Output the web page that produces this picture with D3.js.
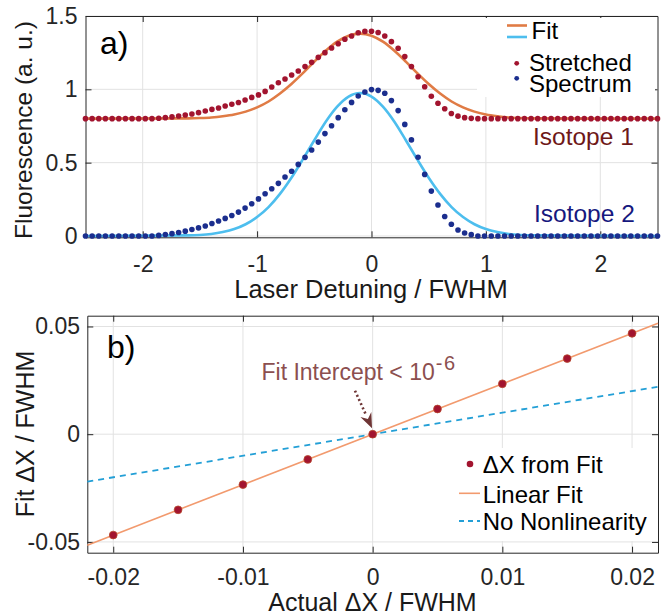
<!DOCTYPE html>
<html>
<head>
<meta charset="utf-8">
<script src="https://cdn.jsdelivr.net/npm/d3@7"></script>
<style>
  html, body { margin: 0; padding: 0; background: #fff; }
  svg { display: block; font-family: "Liberation Sans", Arial, Helvetica, sans-serif; }
  .tick line { stroke: #262626; }
  .tick text { fill: #262626; font-size: 23px; }
  .domain { stroke: #262626; }
</style>
</head>
<body>
<svg id="chart" width="672" height="616"></svg>
<script>
// ---------- Panel a: stretched spectra and their fits ----------
const detuning = [
  -2.500,-2.442,-2.384,-2.326,-2.267,-2.209,-2.151,-2.093,-2.035,-1.977,
  -1.919,-1.860,-1.802,-1.744,-1.686,-1.628,-1.570,-1.512,-1.453,-1.395,
  -1.337,-1.279,-1.221,-1.163,-1.105,-1.047,-0.988,-0.930,-0.872,-0.814,
  -0.756,-0.698,-0.640,-0.581,-0.523,-0.465,-0.407,-0.349,-0.291,-0.233,
  -0.174,-0.116,-0.058, 0.000, 0.058, 0.116, 0.174, 0.233, 0.291, 0.349,
   0.407, 0.465, 0.523, 0.581, 0.640, 0.698, 0.756, 0.814, 0.872, 0.930,
   0.988, 1.047, 1.105, 1.163, 1.221, 1.279, 1.337, 1.395, 1.453, 1.512,
   1.570, 1.628, 1.686, 1.744, 1.802, 1.860, 1.919, 1.977, 2.035, 2.093,
   2.151, 2.209, 2.267, 2.326, 2.384, 2.442, 2.500
];
const isotope1 = [
  0.800,0.800,0.800,0.800,0.800,0.800,0.800,0.800,0.800,0.800,
  0.800,0.803,0.807,0.812,0.818,0.825,0.832,0.841,0.852,0.863,
  0.873,0.886,0.898,0.910,0.927,0.945,0.962,0.986,1.016,1.045,
  1.070,1.098,1.125,1.155,1.184,1.218,1.250,1.282,1.311,1.341,
  1.364,1.386,1.395,1.396,1.387,1.364,1.325,1.280,1.223,1.155,
  1.086,1.018,0.953,0.905,0.868,0.835,0.817,0.807,0.802,0.800,
  0.800,0.800,0.800,0.800,0.800,0.800,0.800,0.800,0.800,0.800,
  0.800,0.800,0.800,0.800,0.800,0.800,0.800,0.800,0.800,0.800,
  0.800,0.800,0.800,0.800,0.800,0.800,0.800
];
const isotope2 = [
  0.000,0.000,0.000,0.000,0.000,0.000,0.000,0.000,0.000,0.000,
  0.000,0.004,0.010,0.016,0.024,0.033,0.044,0.055,0.068,0.085,
  0.102,0.120,0.140,0.163,0.190,0.220,0.253,0.288,0.322,0.359,
  0.402,0.441,0.488,0.536,0.586,0.640,0.698,0.752,0.807,0.861,
  0.911,0.955,0.982,0.998,0.993,0.973,0.923,0.855,0.761,0.655,
  0.537,0.420,0.306,0.211,0.133,0.080,0.041,0.020,0.009,0.000,
  0.000,0.000,0.000,0.000,0.000,0.000,0.000,0.000,0.000,0.000,
  0.000,0.000,0.000,0.000,0.000,0.000,0.000,0.000,0.000,0.000,
  0.000,0.000,0.000,0.000,0.000,0.000,0.000
];
const fitDetuning = [
  -2.5,-1.6,-1.5,-1.4,-1.3,-1.2,-1.1,-1.0,-0.9,-0.8,-0.7,-0.6,-0.5,-0.4,-0.3,-0.2,-0.1,
   0.0, 0.1, 0.2, 0.3, 0.4, 0.5, 0.6, 0.7, 0.8, 0.9, 1.0, 1.1, 1.2, 1.3, 1.4, 2.5
];
const fit1 = [
  0.800,0.802,0.804,0.808,0.816,0.828,0.848,0.877,0.917,0.971,1.036,1.110,1.189,1.263,1.325,1.366,1.380,
  1.366,1.325,1.263,1.189,1.110,1.036,0.971,0.917,0.877,0.848,0.828,0.816,0.808,0.804,0.802,0.800
];
const fit2 = [
  0.000,0.004,0.007,0.014,0.027,0.047,0.080,0.129,0.197,0.287,0.397,0.522,0.653,0.779,0.882,0.951,0.975,
  0.951,0.882,0.779,0.653,0.522,0.397,0.287,0.197,0.129,0.080,0.047,0.027,0.014,0.007,0.004,0.000
];
const aXTicks = [-2, -1, 0, 1, 2];
const aXTickLabels = ["-2", "-1", "0", "1", "2"];
const aYTicks = [0, 0.5, 1, 1.5];
const aYTickLabels = ["0", "0.5", "1", "1.5"];

// ---------- Panel b: fitted shift versus actual shift ----------
const actualShift = [-0.02, -0.015, -0.01, -0.005, 0, 0.005, 0.01, 0.015, 0.02];
const fittedShift = [-0.0468, -0.0351, -0.0234, -0.0117, 0, 0.0117, 0.0234, 0.0351, 0.0468];
const linearFitX = [-0.022, 0.022];
const linearFitY = [-0.0515, 0.0515];
const noNonlinX = [-0.022, 0.022];
const noNonlinY = [-0.022, 0.022];
const bXTicks = [-0.02, -0.01, 0, 0.01, 0.02];
const bXTickLabels = ["-0.02", "-0.01", "0", "0.01", "0.02"];
const bYTicks = [-0.05, 0, 0.05];
const bYTickLabels = ["-0.05", "0", "0.05"];

const C = {
  red: "#a2142f",
  navy: "#1b2e8e",
  orange: "#e07b45",
  sky: "#4dbeee",
  iso1: "#6e1818",
  iso2: "#16187e",
  grid: "#e2e2e2",
  salmon: "#f29a6e",
  dash: "#239fd6",
  note: "#8c4f4f",
  arrow: "#6e3535"
};

const svg = d3.select("#chart");
svg.append("rect").attr("width", 672).attr("height", 616).attr("fill", "#fff");

function frame(g, x, y, xt, xl, yt, yl, xPad, yPad) {
  const [x0, x1] = x.range();
  const [y0, y1] = y.range();
  // grid
  g.append("g").selectAll("line").data(xt).join("line")
    .attr("x1", d => x(d)).attr("x2", d => x(d)).attr("y1", y0).attr("y2", y1)
    .attr("stroke", C.grid).attr("stroke-width", 1);
  g.append("g").selectAll("line").data(yt).join("line")
    .attr("y1", d => y(d)).attr("y2", d => y(d)).attr("x1", x0).attr("x2", x1)
    .attr("stroke", C.grid).attr("stroke-width", 1);
  // axes with inward ticks on all four sides
  g.append("g").attr("transform", `translate(0,${y0})`)
    .call(d3.axisBottom(x).tickValues(xt).tickFormat((d, i) => xl[i]).tickSizeInner(-6).tickSizeOuter(0).tickPadding(xPad));
  g.append("g").attr("transform", `translate(0,${y1})`)
    .call(d3.axisTop(x).tickValues(xt).tickFormat("").tickSizeInner(-6).tickSizeOuter(0));
  g.append("g").attr("transform", `translate(${x0},0)`)
    .call(d3.axisLeft(y).tickValues(yt).tickFormat((d, i) => yl[i]).tickSizeInner(-6).tickSizeOuter(0).tickPadding(yPad));
  g.append("g").attr("transform", `translate(${x1},0)`)
    .call(d3.axisRight(y).tickValues(yt).tickFormat("").tickSizeInner(-6).tickSizeOuter(0));
  g.selectAll(".tick text").attr("font-family", null).attr("font-size", null);
}

// ===== Panel a =====
const xa = d3.scaleLinear().domain([-2.5, 2.5]).range([85.5, 657.5]);
const ya = d3.scaleLinear().domain([-0.009, 1.5]).range([237.3, 16]);
const ga = svg.append("g");
frame(ga, xa, ya, aXTicks, aXTickLabels, aYTicks, aYTickLabels, 18, 8);

const fitLine = vals => d3.line().x((d, i) => xa(fitDetuning[i])).y((d, i) => ya(vals[i])).curve(d3.curveMonotoneX);
ga.append("path").datum(fit1).attr("d", fitLine(fit1)).attr("fill", "none")
  .attr("stroke", C.orange).attr("stroke-width", 2.6);
ga.append("path").datum(fit2).attr("d", fitLine(fit2)).attr("fill", "none")
  .attr("stroke", C.sky).attr("stroke-width", 2.6);

ga.append("g").selectAll("circle").data(isotope1).join("circle")
  .attr("cx", (d, i) => xa(detuning[i])).attr("cy", d => ya(d)).attr("r", 2.8).attr("fill", C.red);
ga.append("g").selectAll("circle").data(isotope2).join("circle")
  .attr("cx", (d, i) => xa(detuning[i])).attr("cy", d => ya(d)).attr("r", 2.8).attr("fill", C.navy);

// legend a
ga.append("rect").attr("x", 477).attr("y", 18).attr("width", 178).attr("height", 79).attr("fill", "#fff");
ga.append("line").attr("x1", 507).attr("x2", 527).attr("y1", 25.5).attr("y2", 25.5).attr("stroke", C.orange).attr("stroke-width", 2.6);
ga.append("line").attr("x1", 507).attr("x2", 527).attr("y1", 37).attr("y2", 37).attr("stroke", C.sky).attr("stroke-width", 2.6);
ga.append("text").attr("x", 531.5).attr("y", 38.5).attr("font-size", 24).attr("fill", "#000").text("Fit");
ga.append("circle").attr("cx", 516.7).attr("cy", 63.3).attr("r", 2.4).attr("fill", C.red);
ga.append("circle").attr("cx", 516.7).attr("cy", 78.3).attr("r", 2.4).attr("fill", C.navy);
// two-line legend label for the dotted series
const specLabel = ga.append("text").attr("x", 529).attr("y", 71.2).attr("font-size", 24).attr("fill", "#000");
specLabel.append("tspan").attr("x", 529).text("Stretched");
specLabel.append("tspan").attr("x", 529).attr("dy", 20.8).text("Spectrum");

ga.append("text").attr("x", 533).attr("y", 145).attr("font-size", 24.5).attr("fill", C.iso1).text("Isotope 1");
ga.append("text").attr("x", 534).attr("y", 221.7).attr("font-size", 24.5).attr("fill", C.iso2).text("Isotope 2");
ga.append("text").attr("x", 100).attr("y", 53.5).attr("font-size", 32).attr("fill", "#000").text("a)");

svg.append("text").attr("x", 371).attr("y", 298).attr("text-anchor", "middle")
  .attr("font-size", 25.5).attr("fill", "#1a1a1a").text("Laser Detuning / FWHM");
svg.append("text").attr("transform", "translate(32,130) rotate(-90)").attr("text-anchor", "middle")
  .attr("font-size", 24.5).attr("fill", "#1a1a1a").text("Fluorescence (a. u.)");

// ===== Panel b =====
const xb = d3.scaleLinear().domain([-0.022, 0.022]).range([87.3, 658]);
const yb = d3.scaleLinear().domain([-0.055, 0.055]).range([552.7, 315.7]);
const gb = svg.append("g");
frame(gb, xb, yb, bXTicks, bXTickLabels, bYTicks, bYTickLabels, 16, 7.3);

const segLine = (xs, ys) => d3.line().x((d, i) => xb(xs[i])).y((d, i) => yb(ys[i]))(xs);
gb.append("path").attr("d", segLine(noNonlinX, noNonlinY)).attr("fill", "none")
  .attr("stroke", C.dash).attr("stroke-width", 1.8).attr("stroke-dasharray", "6,5");
gb.append("path").attr("d", segLine(linearFitX, linearFitY)).attr("fill", "none")
  .attr("stroke", C.salmon).attr("stroke-width", 1.6);
gb.append("g").selectAll("circle").data(fittedShift).join("circle")
  .attr("cx", (d, i) => xb(actualShift[i])).attr("cy", d => yb(d)).attr("r", 3.9)
  .attr("fill", C.red).attr("stroke", "#b8482c").attr("stroke-width", 0.8);

// annotation
const note = gb.append("text").attr("x", 261.5).attr("y", 380).attr("font-size", 23).attr("fill", C.note);
note.append("tspan").text("Fit Intercept < 10");
note.append("tspan").attr("dy", -10).attr("dx", 1).attr("font-size", 20).attr("letter-spacing", 1.5).text("-6");

const tip = [xb(0) - 0.6, yb(0) - 6];
const start = [355, 390.7];
const dx = tip[0] - start[0], dy = tip[1] - start[1];
const len = Math.hypot(dx, dy);
const u = [dx / len, dy / len], p = [-u[1], u[0]];
const headLen = 15, headW = 6, notch = 10;
const base = [tip[0] - headLen * u[0], tip[1] - headLen * u[1]];
const back = [tip[0] - notch * u[0], tip[1] - notch * u[1]];
gb.append("line").attr("x1", start[0]).attr("y1", start[1]).attr("x2", base[0]).attr("y2", base[1])
  .attr("stroke", C.arrow).attr("stroke-width", 2.6).attr("stroke-dasharray", "2,2.6");
gb.append("path")
  .attr("d", `M${tip[0]},${tip[1]}L${base[0] + headW * p[0]},${base[1] + headW * p[1]}L${back[0]},${back[1]}L${base[0] - headW * p[0]},${base[1] - headW * p[1]}Z`)
  .attr("fill", C.arrow);

// legend b
gb.append("rect").attr("x", 457).attr("y", 448).attr("width", 198).attr("height", 93).attr("fill", "#fff");
gb.append("circle").attr("cx", 470).attr("cy", 464).attr("r", 3.3).attr("fill", C.red);
gb.append("text").attr("x", 482.7).attr("y", 473).attr("font-size", 24).attr("fill", "#000").text("\u0394X from Fit");
gb.append("line").attr("x1", 459).attr("x2", 480).attr("y1", 493.3).attr("y2", 493.3).attr("stroke", C.salmon).attr("stroke-width", 1.6);
gb.append("text").attr("x", 482.7).attr("y", 502.7).attr("font-size", 24).attr("fill", "#000").text("Linear Fit");
gb.append("line").attr("x1", 459).attr("x2", 480).attr("y1", 521).attr("y2", 521).attr("stroke", C.dash).attr("stroke-width", 1.8).attr("stroke-dasharray", "5,4");
gb.append("text").attr("x", 482.7).attr("y", 530).attr("font-size", 24).attr("fill", "#000").text("No Nonlinearity");

gb.append("text").attr("x", 107).attr("y", 358.3).attr("font-size", 32).attr("fill", "#000").text("b)");

svg.append("text").attr("x", 372.5).attr("y", 611).attr("text-anchor", "middle")
  .attr("font-size", 25).attr("fill", "#1a1a1a").text("Actual \u0394X / FWHM");
svg.append("text").attr("transform", "translate(33.5,434) rotate(-90)").attr("text-anchor", "middle")
  .attr("font-size", 25).attr("fill", "#1a1a1a").text("Fit \u0394X / FWHM");
</script>
</body>
</html>
